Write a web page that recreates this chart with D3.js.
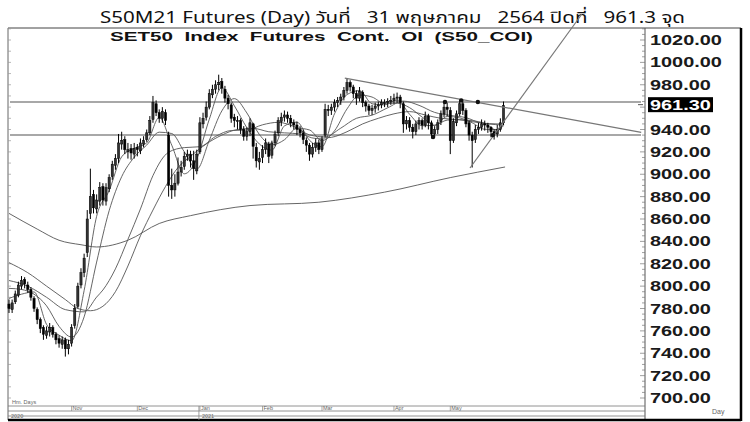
<!DOCTYPE html>
<html><head><meta charset="utf-8">
<script src="https://cdn.jsdelivr.net/npm/d3@7"></script>
<style>body{margin:0;background:#fff}svg{display:block}</style>
</head><body>
<svg id="c" width="750" height="422"></svg>
<script>
// ---- data (daily bars, Oct 2020 .. 31 May 2021) ----
const opens = [784,779,786,792,800,806,801,797,789,779,770,763,756,759,763,757,753,748,752,744,
 749,765,782,801,812,830,865,882,869,876,889,876,887,898,908,914,927,931,920,923,918,
 924,921,927,931,937,949,963,955,950,955,935,890,886,892,902,907,916,918,912,903,
 920,945,951,960,971,976,980,983,976,968,962,951,947,948,940,934,938,945,924,911,
 915,922,927,917,928,937,947,951,953,950,946,944,940,937,930,926,918,924,928,
 922,935,958,957,960,964,966,969,975,982,978,972,968,973,964,961,957,959,961,962,964,964,965,
 966,968,969,963,945,948,942,938,945,948,944,952,946,936,940,947,954,960,
 957,930,946,954,963,957,946,935,931,940,942,945,944,942,938,936,940,946];
const highs = [788,788,796,804,809,808,804,799,791,781,772,765,764,767,765,759,756,755,754,752,
 766,784,803,816,829,868,905,886,882,893,892,892,900,912,918,936,938,934,928,927,928,
 927,932,934,940,952,970,966,958,960,958,938,905,900,915,912,920,922,921,921,922,
 951,955,965,976,980,984,989,986,979,971,964,954,952,950,943,942,950,946,928,920,
 926,932,929,930,939,951,955,957,956,953,949,947,943,940,933,928,928,932,931,
 934,963,962,963,967,969,972,978,986,984,980,975,978,975,966,963,962,964,965,967,967,968,970,
 972,973,971,965,952,951,945,948,951,950,956,954,948,943,949,957,965,964,
 960,950,957,967,965,959,948,938,944,946,949,948,946,943,940,944,950,965];
const lows = [776,776,784,790,797,798,794,787,777,766,758,752,753,755,754,748,745,744,737,739,
 746,762,780,798,808,826,860,865,865,872,872,872,884,895,904,910,922,918,914,913,914,
 916,918,924,929,935,946,952,946,946,944,880,878,880,890,898,904,912,906,895,900,
 918,941,948,958,968,972,975,972,964,958,946,942,940,936,930,930,934,914,906,904,
 910,918,910,914,925,934,943,947,946,942,940,935,933,927,920,912,915,920,918,
 920,933,952,953,956,960,962,966,972,974,968,962,965,960,956,953,953,955,957,959,960,960,962,
 963,964,959,937,940,938,932,935,940,940,942,940,932,933,936,944,951,952,
 918,928,943,952,953,942,930,906,928,936,939,939,937,933,931,933,938,944];
const closes = [780,785,793,801,805,802,797,790,780,770,762,757,760,763,757,752,749,752,744,748,
 763,780,800,812,825,860,880,870,877,888,877,888,897,909,914,928,930,922,922,919,923,
 922,928,930,937,948,964,955,950,956,948,890,886,892,902,906,916,918,912,905,918,
 946,950,960,972,976,980,982,977,968,963,950,948,948,940,934,938,946,925,912,914,
 922,928,916,928,936,948,951,953,950,946,944,940,937,931,926,918,924,928,922,
 931,958,957,960,964,966,969,975,982,978,972,968,974,964,961,957,959,961,962,964,964,965,966,
 968,969,964,945,948,942,938,945,948,944,952,946,936,940,946,954,960,958,
 930,947,954,963,957,945,935,930,940,942,945,944,942,938,936,940,946,961.3];

// moving averages (bar index -> value)
const maFastIdx = [0,4,8,12,16,20,24,28,32,36,40,44,48,52,56,60,64,68,72,76,80,84,88,92,96,100,104,108,112,116,120,124,128,132,136,140,144,148,152,156,158];
const ma5 = [789,792.8,794.8,765.8,756.2,751.2,796,862.4,885.4,915.6,923.2,928,950.8,926,900.4,913.8,949.2,977.4,961.2,941.6,927,921.6,943.2,946.6,930.4,924.6,954,971.2,974.8,963,962,966.4,953.6,943.4,943.6,951.6,950.4,946,940.2,940,944.3];
const ma10 = [798,797,792.8,782.4,764,754.5,772.5,821.5,867.4,897.8,915.2,926.1,937.6,936.4,920.1,904.5,930.3,956.6,967.6,954.8,935.5,926.3,930.8,941.2,939.6,930.1,938.8,958.4,970.8,969,963.4,963.5,959.5,951.1,943.9,948.4,948.8,947.9,945.5,939.2,943.4];
const ma25Idx = [0,6,12,18,24,28,30,34,38,42,46,51,56,61,66,71,76,81,86,91,96,101,106,111,116,121,126,131,136,141,146,151,156,158];
const ma25 = [805,800,790,779,777,790.2,796.5,815.4,841.8,869,898.8,919.7,923.8,924.6,933.8,939.1,939.5,944.2,946.4,942.7,935.2,933.4,941.2,950,952.8,959.4,965.4,961.6,955.3,952.6,950.6,945.8,945,945.4];
const maMidIdx = [0,6,12,18,22,26,30,34,38,42,46,50,54,58,63,68,73,78,83,88,93,98,103,108,113,118,123,128,133,138,143,148,153,158];
const maMid = [821,812,800,788,780,778,782,795,818,845,868,889,906,916,927,935,940,941,938,937,936,932,933,938,945,950,954,956,953,950,949,947,945,944];
const maLongIdx = [0,9,16,23,28,38,48,58,77,99,120,141,158.5];
const maLong = [865,851,841,837,835,841,856,863,872,875,884,897,906.5];

// drawn studies
const levels = [964.6, 935];
const trendFrom = [[107.3,986],[147.3,905.6]];
const trendTo = [[202,937.5],[183,1043]];
const markIdx = [139.3,144.5,149.8,135.5,154.6];
const markVals = [964.6,966,964.6,933.3,935];

// axis labels
const yTickVals = [1020,1000,980,940,920,900,880,860,840,820,800,780,760,740,720,700];
const lastClose = 961.3;
const monthIdx = [20,41,61,81,100,123,141];
const monthLabels = ["Nov","Dec","Jan","Feb","Mar","Apr","May"];
const yearIdx = [0,61];
const yearLabels = ["2020","2021"];
const titleText = "S50M21 Futures (Day) วันที่   31 พฤษภาคม   2564 ปิดที่   961.3 จุด";
const subTitle = "SET50  Index  Futures  Cont.  OI  (S50_COI)";

// ---- layout ----
const svg = d3.select("#c");
const L = 8, R = 645, T = 28, B = 406, W = 741, BOT = 420;
const x = d3.scaleLinear().domain([0,158]).range([9,503.5]);
const y = d3.scaleLinear().domain([700,1020]).range([398,40]);

svg.append("rect").attr("width",750).attr("height",422).attr("fill","#fff");

// title
svg.append("text").attr("x",100).attr("y",23)
  .attr("textLength",585).attr("lengthAdjust","spacingAndGlyphs")
  .style("white-space","pre")
  .attr("font-family","'Noto Sans Thai','Noto Sans','DejaVu Sans',sans-serif")
  .attr("font-size",16).attr("fill","#111").text(titleText);

// frame
svg.append("line").attr("x1",L).attr("x2",W).attr("y1",T).attr("y2",T).attr("stroke","#444").attr("stroke-width",1);
svg.append("line").attr("x1",L).attr("x2",L).attr("y1",T).attr("y2",BOT).attr("stroke","#666").attr("stroke-width",1);
svg.append("line").attr("x1",R).attr("x2",R).attr("y1",T).attr("y2",BOT).attr("stroke","#555").attr("stroke-width",1);
svg.append("line").attr("x1",W).attr("x2",W).attr("y1",T).attr("y2",BOT+1).attr("stroke","#000").attr("stroke-width",2.5);
svg.append("line").attr("x1",L).attr("x2",W).attr("y1",BOT).attr("y2",BOT).attr("stroke","#000").attr("stroke-width",2.5);
[B,411,416].forEach(yy=>svg.append("line").attr("x1",L).attr("x2",R).attr("y1",yy).attr("y2",yy).attr("stroke","#777").attr("stroke-width",0.8));

// subtitle
svg.append("text").attr("x",110).attr("y",41)
  .attr("textLength",423).attr("lengthAdjust","spacingAndGlyphs")
  .style("white-space","pre")
  .attr("font-family","'Liberation Sans',Arial,sans-serif").attr("font-weight","bold")
  .attr("font-size",13).attr("fill","#111").text(subTitle);

// minor ticks on right axis & left edge
const minor = d3.range(700,1031,5);
svg.append("g").selectAll("line").data(minor).join("line")
  .attr("x1",d=> d%20===0? R-5 : R-3).attr("x2",R)
  .attr("y1",d=>y(d)).attr("y2",d=>y(d)).attr("stroke","#777").attr("stroke-width",0.7);
svg.append("g").selectAll("line").data(d3.range(700,1031,10)).join("line")
  .attr("x1",L).attr("x2",L+3)
  .attr("y1",d=>y(d)).attr("y2",d=>y(d)).attr("stroke","#999").attr("stroke-width",0.7);

// y axis labels
const yl = svg.append("g");
yTickVals.forEach(v=>{
  yl.append("text").attr("transform",`translate(650,${y(v)}) scale(1.42,1)`)
    .attr("dy","0.36em").attr("font-family","'Liberation Sans',Arial,sans-serif")
    .attr("font-weight","bold").attr("font-size",14).attr("fill","#1a1a1a")
    .text(d3.format(".2f")(v));
});
// last price box
yl.append("rect").attr("x",648).attr("y",y(lastClose)-8.5).attr("width",65).attr("height",15).attr("fill","#000");
yl.append("text").attr("transform",`translate(650,${y(lastClose)-1}) scale(1.42,1)`)
  .attr("dy","0.36em").attr("font-family","'Liberation Sans',Arial,sans-serif")
  .attr("font-weight","bold").attr("font-size",14).attr("fill","#fff")
  .text(d3.format(".2f")(lastClose));
svg.append("line").attr("x1",638).attr("x2",643).attr("y1",y(lastClose)-1).attr("y2",y(lastClose)-1).attr("stroke","#555");

// horizontal levels
svg.append("g").selectAll("line").data(levels).join("line")
  .attr("x1",L+2).attr("x2",R-4).attr("y1",d=>y(d)).attr("y2",d=>y(d))
  .attr("stroke","#a8a8a8").attr("stroke-width",2);

// moving averages
const line = d3.line().x(d=>x(d[0])).y(d=>y(d[1])).curve(d3.curveMonotoneX);
const maSets = [[maLongIdx,maLong],[maMidIdx,maMid],[ma25Idx,ma25],[maFastIdx,ma10],[maFastIdx,ma5]];
maSets.forEach(([ix,vals])=>{
  svg.append("path").attr("d",line(ix.map((d,k)=>[d,vals[k]])))
    .attr("fill","none").attr("stroke","#555").attr("stroke-width",0.9);
});

// candles
const g = svg.append("g");
closes.forEach((c,i)=>{
  const o=opens[i], xx=x(i);
  g.append("line").attr("x1",xx).attr("x2",xx).attr("y1",y(highs[i])).attr("y2",y(lows[i]))
   .attr("stroke","#000").attr("stroke-width",1);
  const top=y(Math.max(o,c)), bot=y(Math.min(o,c));
  g.append("rect").attr("x",xx-1.1).attr("width",2.2).attr("y",top).attr("height",Math.max(1,bot-top))
   .attr("fill", c<o? "#000":"#333").attr("stroke","#000").attr("stroke-width",0.5);
});

// trend lines
trendFrom.forEach((p,k)=>{
  const q=trendTo[k];
  svg.append("line").attr("x1",x(p[0])).attr("y1",y(p[1])).attr("x2",x(q[0])).attr("y2",y(q[1]))
    .attr("stroke","#777").attr("stroke-width",1.2);
});
// markers
svg.append("g").selectAll("circle").data(markIdx).join("circle")
  .attr("cx",d=>x(d)).attr("cy",(d,k)=>y(markVals[k])).attr("r",2.2).attr("fill","#111");

// x axis strip
const tiny = {"font-family":"'Liberation Sans',Arial,sans-serif","font-size":5.5,"fill":"#666"};
monthIdx.forEach((m,k)=>{
  svg.append("line").attr("x1",x(m)).attr("x2",x(m)).attr("y1",B).attr("y2",411).attr("stroke","#888").attr("stroke-width",0.7);
  const t=svg.append("text").attr("x",x(m)+1).attr("y",410).text(monthLabels[k]);
  Object.entries(tiny).forEach(([a,v])=>t.attr(a,v));
});
yearIdx.forEach((m,k)=>{
  if(k>0) svg.append("line").attr("x1",x(m)-1).attr("x2",x(m)-1).attr("y1",B).attr("y2",BOT).attr("stroke","#888").attr("stroke-width",0.8);
  const t=svg.append("text").attr("x",x(m)+2).attr("y",418).text(yearLabels[k]);
  Object.entries(tiny).forEach(([a,v])=>t.attr(a,v));
});
const hd=svg.append("text").attr("x",12).attr("y",404).text("Hm. Days");
Object.entries(tiny).forEach(([a,v])=>hd.attr(a,v));
const dy=svg.append("text").attr("x",712).attr("y",414).text("Day");
Object.entries(tiny).forEach(([a,v])=>dy.attr(a,v));
dy.attr("font-size",7);
</script>
</body></html>
